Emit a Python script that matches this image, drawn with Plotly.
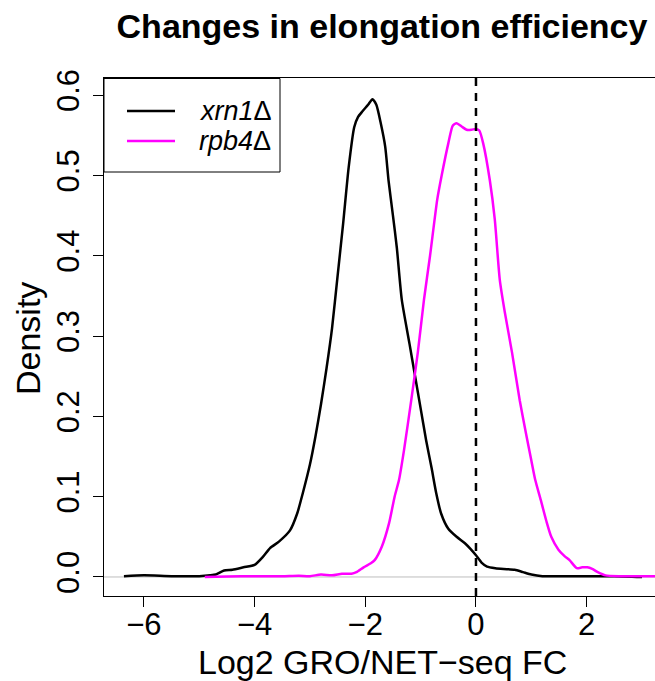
import plotly.graph_objects as go

# ---- data ----
xrn1_x = [-6.36, -6.0, -5.5, -5.0, -4.8, -4.7, -4.55, -4.4, -4.2, -4.0, -3.85, -3.72,
          -3.56, -3.36, -3.23, -3.13, -3.0, -2.9, -2.8, -2.7, -2.6, -2.5, -2.4, -2.3,
          -2.2, -2.13, -2.05, -1.95, -1.87, -1.8, -1.72, -1.64, -1.58, -1.5, -1.43,
          -1.34, -1.2, -1.1, -1.0, -0.9, -0.8, -0.72, -0.63, -0.5, -0.35, -0.2, -0.1,
          0.0, 0.1, 0.2, 0.35, 0.5, 0.7, 0.85, 1.0, 1.2, 1.5, 2.0, 2.5, 3.0]
xrn1_y = [0.001, 0.002, 0.001, 0.001, 0.002, 0.003, 0.008, 0.009, 0.012, 0.015, 0.025, 0.036,
          0.044, 0.058, 0.079, 0.104, 0.14, 0.175, 0.215, 0.26, 0.31, 0.375, 0.44, 0.51,
          0.56, 0.573, 0.58, 0.588, 0.595, 0.588, 0.565, 0.536, 0.494, 0.45, 0.41,
          0.345, 0.29, 0.25, 0.21, 0.17, 0.135, 0.105, 0.079, 0.06, 0.05, 0.042, 0.035,
          0.027, 0.018, 0.013, 0.011, 0.010, 0.009, 0.006, 0.003, 0.001, 0.001, 0.001, 0.001, 0.0]

rpb4_x = [-4.9, -4.5, -4.0, -3.5, -3.2, -3.0, -2.8, -2.6, -2.42, -2.25, -2.16, -2.03,
          -1.9, -1.83, -1.7, -1.57, -1.47, -1.39, -1.30, -1.17, -1.05, -0.94, -0.83,
          -0.7, -0.62, -0.5, -0.42, -0.35, -0.26, -0.17, -0.08, 0.0, 0.06, 0.13, 0.25,
          0.34, 0.43, 0.52, 0.65, 0.79, 0.9, 1.0, 1.07, 1.17, 1.27, 1.36, 1.49, 1.6,
          1.69, 1.82, 1.92, 2.01, 2.1, 2.2, 2.34, 2.6, 3.0, 3.4]
rpb4_y = [0.0, 0.0005, 0.001, 0.001, 0.0015, 0.001, 0.003, 0.002, 0.004, 0.004, 0.006, 0.012,
          0.017, 0.021, 0.038, 0.067, 0.1, 0.121, 0.158, 0.22, 0.28, 0.345, 0.40,
          0.47, 0.50, 0.54, 0.562, 0.565, 0.561, 0.557, 0.557, 0.558, 0.556, 0.54, 0.494,
          0.445, 0.37, 0.33, 0.28, 0.22, 0.18, 0.145, 0.121, 0.096, 0.07, 0.05, 0.034, 0.026,
          0.021, 0.011, 0.012, 0.012, 0.010, 0.006, 0.002, 0.001, 0.001, 0.001]

x_ticks = [-6, -4, -2, 0, 2]
y_ticks = [0.0, 0.1, 0.2, 0.3, 0.4, 0.5, 0.6]
series_names = ["<i>xrn1</i>Δ", "<i>rpb4</i>Δ"]
series_colors = ["black", "#FF00FF"]

FONT = "Liberation Sans, Arial, sans-serif"

# plot-area geometry in pixels (for placing legend / titles)
W, H = 655, 681
ML, MR, MT, MB = 104, 0, 78, 85
PW, PH = W - ML - MR, H - MT - MB


def px(xp):
    return (xp - ML) / PW


def py(yp):
    return (H - MB - yp) / PH


fig = go.Figure()
for xs, ys, nm, col in [(xrn1_x, xrn1_y, series_names[0], series_colors[0]),
                        (rpb4_x, rpb4_y, series_names[1], series_colors[1])]:
    fig.add_trace(go.Scatter(x=xs, y=ys, mode="lines", name=nm, showlegend=False,
                             line=dict(color=col, width=2.5, shape="spline", smoothing=0.6)))

# zero line (gray) and dashed reference line at 0
fig.add_shape(type="line", xref="paper", x0=0, x1=1, yref="y", y0=0, y1=0,
              line=dict(color="#BEBEBE", width=1), layer="below")
fig.add_shape(type="line", xref="x", x0=0, x1=0, yref="paper", y0=0, y1=1,
              line=dict(color="black", width=2.5, dash="8px,7px"))

# legend (R-style box)
fig.add_shape(type="rect", xref="paper", yref="paper",
              x0=px(104), x1=px(280), y0=py(172), y1=py(78.5),
              line=dict(color="black", width=1), fillcolor="white")
annotations = []
for i, (nm, col) in enumerate(zip(series_names, series_colors)):
    yl = 111 + 30 * i
    fig.add_shape(type="line", xref="paper", yref="paper",
                  x0=px(127), x1=px(175), y0=py(yl), y1=py(yl),
                  line=dict(color=col, width=2.5))
    annotations.append(dict(text=nm, xref="paper", yref="paper", x=px(197), y=py(yl),
                            xanchor="left", yanchor="middle", showarrow=False,
                            font=dict(size=27, family=FONT)))

annotations += [
    dict(text="Log2 GRO/NET−seq FC", xref="paper", yref="paper",
         x=px(382), y=py(662), xanchor="center", yanchor="middle",
         showarrow=False, font=dict(size=34, family=FONT)),
    dict(text="Density", xref="paper", yref="paper", textangle=-90,
         x=px(28), y=py(339), xanchor="center", yanchor="middle",
         showarrow=False, font=dict(size=34, family=FONT)),
]

fig.update_layout(
    width=W, height=H,
    margin=dict(l=ML, r=MR, t=MT, b=MB),
    paper_bgcolor="white", plot_bgcolor="white",
    font=dict(family=FONT, color="black", size=31),
    title=dict(text="<b>Changes in elongation efficiency</b>", font=dict(size=34, family=FONT),
               xref="container", x=382 / W, xanchor="center",
               yref="container", y=1 - 26 / H, yanchor="middle"),
    showlegend=False,
    xaxis=dict(range=[-6.72, 3.234], tickmode="array", tickvals=x_ticks,
               ticks="outside", ticklen=10, tickcolor="black", tickwidth=1,
               ticklabelstandoff=-9,
               showline=True, linecolor="black", linewidth=1, mirror=True,
               showgrid=False, zeroline=False, tickfont=dict(size=31)),
    yaxis=dict(range=[-0.0237, 0.6214], tickmode="array", tickvals=y_ticks,
               tickformat=".1f", tickangle=-90, ticklabelstandoff=2,
               ticks="outside", ticklen=10, tickcolor="black", tickwidth=1,
               showline=True, linecolor="black", linewidth=1, mirror=False,
               showgrid=False, zeroline=False, tickfont=dict(size=31)),
    annotations=annotations,
)

fig.write_html("out.html")
